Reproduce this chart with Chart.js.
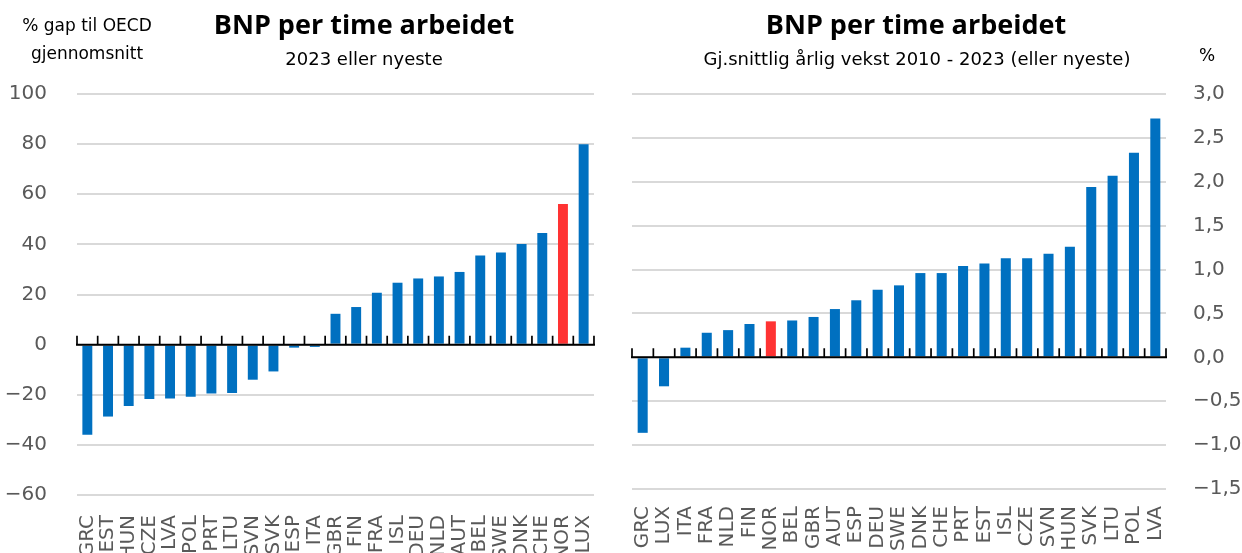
<!DOCTYPE html>
<html lang="no">
<head>
<meta charset="utf-8">
<title>BNP per time arbeidet</title>
<script src="https://cdn.jsdelivr.net/npm/chart.js@4.4.1/dist/chart.umd.min.js"></script>
<style>
	html, body { margin: 0; padding: 0; width: 1242px; height: 553px; overflow: hidden; background: #fff; }
	.panel { position: absolute; top: 0; height: 600px; }
	#panel-left { left: 0; width: 620px; }
	#panel-right { left: 620px; width: 622px; }
	.txt { position: absolute; white-space: nowrap; color: #000; line-height: 1; font-family: 'DejaVu Sans', sans-serif; }
	.title { font-family: 'Open Sans', sans-serif; font-weight: 700; font-size: 27px; transform: translateX(-50%); top: 10px; }
	.sub { font-size: 18px; transform: translateX(-50%); top: 50px; }
	.note { font-size: 17px; }
	.mid { transform: translateX(-50%); }
</style>
</head>
<body>
<div class="panel" id="panel-left"><canvas id="chart-gap" width="620" height="600"></canvas></div>
<div class="panel" id="panel-right"><canvas id="chart-vekst" width="622" height="600"></canvas></div>

<div class="txt note mid" style="left:87px; top:17px;">% gap til OECD</div>
<div class="txt note mid" style="left:87px; top:45px;">gjennomsnitt</div>
<div class="txt title" style="left:364px;">BNP per time arbeidet</div>
<div class="txt sub" style="left:364px;">2023 eller nyeste</div>

<div class="txt title" style="left:916px;">BNP per time arbeidet</div>
<div class="txt sub" style="left:917px;">Gj.snittlig årlig vekst 2010 - 2023 (eller nyeste)</div>
<div class="txt note" style="left:1199px; top:47px;">%</div>

<script>
// Venstre: % gap til OECD-snittet, 2023 eller nyeste
const gapLand = ['GRC', 'EST', 'HUN', 'CZE', 'LVA', 'POL', 'PRT', 'LTU', 'SVN', 'SVK', 'ESP', 'ITA', 'GBR',
	'FIN', 'FRA', 'ISL', 'DEU', 'NLD', 'AUT', 'BEL', 'SWE', 'DNK', 'CHE', 'NOR', 'LUX'];
const gapVerdi = [-36, -28.7, -24.5, -21.7, -21.5, -20.8, -19.5, -19.3, -14, -10.7, -1.2, -0.9, 12.3,
	15, 20.7, 24.7, 26.4, 27.2, 29, 35.6, 36.8, 40.1, 44.5, 56.1, 80];
const gapTicks = { min: -60, max: 100, step: 20 };

// Høyre: gj.snittlig årlig vekst 2010 - 2023
const vekstLand = ['GRC', 'LUX', 'ITA', 'FRA', 'NLD', 'FIN', 'NOR', 'BEL', 'GBR', 'AUT', 'ESP', 'DEU', 'SWE',
	'DNK', 'CHE', 'PRT', 'EST', 'ISL', 'CZE', 'SVN', 'HUN', 'SVK', 'LTU', 'POL', 'LVA'];
const vekstVerdi = [-0.86, -0.33, 0.11, 0.28, 0.31, 0.38, 0.41, 0.42, 0.46, 0.55, 0.65, 0.77, 0.82,
	0.96, 0.96, 1.04, 1.07, 1.13, 1.13, 1.18, 1.26, 1.94, 2.07, 2.33, 2.72];
const vekstTicks = { min: -1.5, max: 3.0, step: 0.5 };

const BLA = '#0070C0';
const ROD = '#FF3333';
const GRA = '#595959';

// nulllinje med små streker mellom kategoriene
const nullAkse = {
	id: 'nullAkse',
	afterDatasetsDraw(chart) {
		const { ctx, chartArea, scales } = chart;
		const y0 = scales.y.getPixelForValue(0);
		const n = chart.data.labels.length;
		ctx.save();
		ctx.strokeStyle = '#000';
		ctx.lineWidth = 1.7;
		ctx.beginPath();
		for (let i = 0; i <= n; i++) {
			const x = scales.x.getPixelForValue(i - 0.5);
			ctx.moveTo(x, y0);
			ctx.lineTo(x, y0 - 9);
		}
		ctx.stroke();
		ctx.lineWidth = 2;
		ctx.beginPath();
		ctx.moveTo(chartArea.left - 1, y0);
		ctx.lineTo(chartArea.right + 1, y0);
		ctx.stroke();
		ctx.restore();
	}
};

function minus(s) {
	return s.replace('-', '\u2212');
}

function lagDiagram(id, land, verdier, t, opts) {
	return new Chart(document.getElementById(id), {
		type: 'bar',
		data: {
			labels: land,
			datasets: [{
				data: verdier,
				backgroundColor: land.map(l => l === 'NOR' ? ROD : BLA),
				barPercentage: opts.bar,
				categoryPercentage: 1
			}]
		},
		options: {
			responsive: false,
			animation: false,
			layout: { padding: opts.padding },
			plugins: { legend: { display: false }, tooltip: { enabled: false } },
			scales: {
				x: {
					grid: { display: false },
					border: { display: false },
					afterFit: s => { s.height = opts.xHeight; },
					ticks: {
						autoSkip: false,
						minRotation: 90,
						maxRotation: 90,
						padding: opts.xPad,
						color: GRA,
						font: { family: 'DejaVu Sans', size: 20 }
					}
				},
				y: {
					position: opts.yPos,
					min: t.min,
					max: t.max,
					afterFit: s => { s.width = opts.yWidth; },
					grid: { color: '#d9d9d9', lineWidth: 2, drawTicks: false },
					border: { display: false },
					ticks: {
						stepSize: t.step,
						padding: opts.yPad,
						color: GRA,
						font: { family: 'DejaVu Sans', size: 20 },
						callback: opts.fmt
					}
				}
			}
		},
		plugins: [nullAkse]
	});
}

lagDiagram('chart-gap', gapLand, gapVerdi, gapTicks, {
	bar: 0.48,
	padding: { top: 94, right: 18, left: 0, bottom: 0 },
	xHeight: 105,
	xPad: 12,
	yPos: 'left',
	yWidth: 77,
	yPad: 30,
	fmt: v => minus(String(v))
});

lagDiagram('chart-vekst', vekstLand, vekstVerdi, vekstTicks, {
	bar: 0.47,
	padding: { top: 94, right: 0, left: 12, bottom: 0 },
	xHeight: 111,
	xPad: 9,
	yPos: 'right',
	yWidth: 76,
	yPad: 27,
	fmt: v => minus(v.toFixed(1).replace('.', ','))
});
</script>
</body>
</html>
